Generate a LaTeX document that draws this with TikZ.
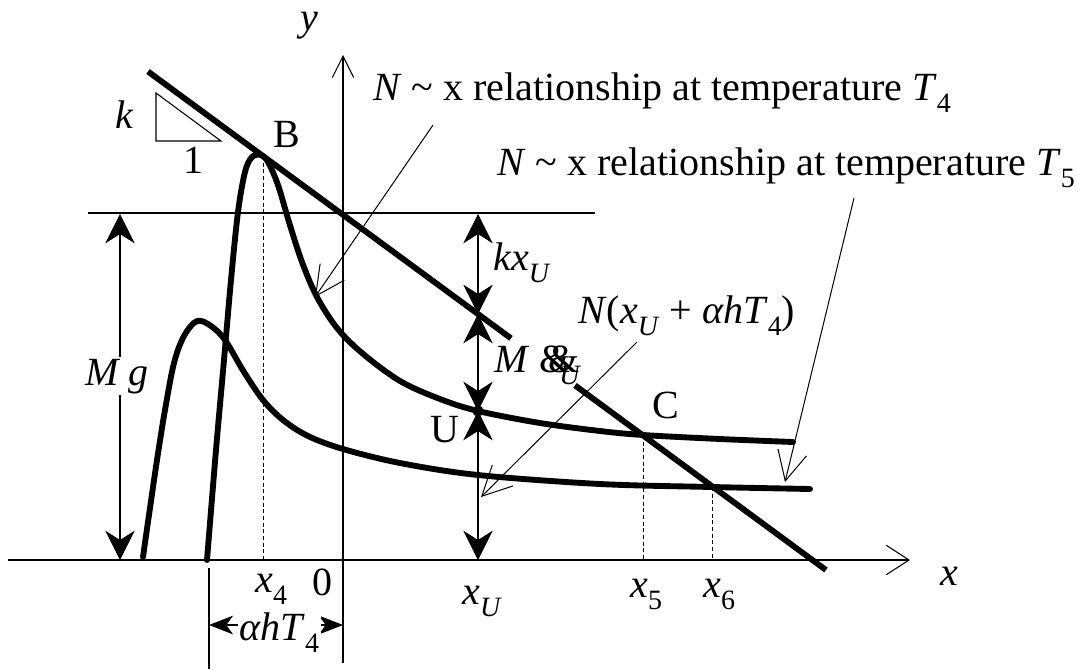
\documentclass[tikz,border=0pt]{standalone}
\usepackage{fontspec}
\setmainfont{Liberation Serif}
\usetikzlibrary{arrows.meta}
\newcommand{\sbs}[1]{\raisebox{-0.3em}{\fontsize{21}{23}\selectfont #1}}
\begin{document}
\begin{tikzpicture}[x=0.75pt,y=-0.75pt,
  lbl/.style={font=\fontsize{30}{34}\selectfont, inner sep=0pt},
  wlbl/.style={lbl, fill=white, inner sep=1pt},
  curveline/.style={line width=4.4pt, line cap=round, line join=round},
  thinline/.style={line width=0.8pt},
  dimarrow/.style={line width=0.8pt, {Stealth[length=22pt,width=22pt,inset=7pt]}-{Stealth[length=22pt,width=22pt,inset=7pt]}},
  smalldim/.style={line width=0.8pt, {Stealth[length=18pt,width=14pt,inset=5pt]}-{Stealth[length=18pt,width=14pt,inset=5pt]}},
  leader/.style={line width=0.75pt, -{Straight Barb[length=22pt,width=22pt]}},
  guide/.style={line width=0.6pt, dash pattern=on 3pt off 2pt}]
\useasboundingbox (0,0) rectangle (1078,669);

% axes
\coordinate (xstart) at (8,560);
\coordinate (xend) at (910,560);
\coordinate (ybot) at (343,663);
\coordinate (ytop) at (343,55);
\draw[thinline, -{Straight Barb[length=17pt,width=22pt]}] (xstart) -- (xend);
\draw[thinline, -{Straight Barb[length=16pt,width=16pt]}] (ybot) -- (ytop);
\node[lbl, anchor=base west] (ylab) at (300,30) {\textit{y}};
\node[lbl, anchor=base west] (xlab) at (940,585) {\textit{x}};

% reference horizontal line
\coordinate (hl) at (88,213);
\coordinate (hr) at (595,213);
\draw[thinline] (hl) -- (hr);

% tangent line (broken near label)
\coordinate (t1) at (148,71.5);
\coordinate (t2) at (511,338.3);
\coordinate (t3) at (575,385.4);
\coordinate (t4) at (826,570);
\draw[curveline, line cap=butt] (t1) -- (t2);
\draw[curveline, line cap=butt] (t3) -- (t4);

% slope triangle
\coordinate (s1) at (156,93);
\coordinate (s2) at (156,141);
\coordinate (s3) at (221,141);
\draw[thinline] (s1) -- (s2) -- (s3) -- cycle;
\node[lbl, anchor=base west] (klab) at (115,128) {\textit{k}};
\node[lbl, anchor=base west] (onelab) at (183,173) {1};

% curve T4
\draw[curveline] plot[smooth, tension=0.55] coordinates {
 (207,560) (216,450) (224,360) (231,280) (238,212) (245,172) (252,157) (261,155) (268,162)
 (278,185) (289,222) (302,262) (317,297) (337,328) (362,353) (400,381) (440,399)
 (478,411) (540,423) (600,431) (643,435) (720,439) (793,442)};
% curve T5
\draw[curveline] plot[smooth, tension=0.55] coordinates {
 (143,557) (150,508) (157,460) (165,410) (174,363) (184,336) (197,321) (211,326)
 (225,340) (244,372) (263,400) (283,420) (308,436) (343,449) (400,463) (478,475)
 (600,484) (712,487) (810,489)};

% points and guides
\coordinate (B) at (263,156);
\coordinate (C) at (643,435);
\coordinate (D) at (712,487);
\coordinate (B0) at (263,560);
\coordinate (C0) at (643,560);
\coordinate (D0) at (712,560);
\draw[guide] (B) -- (B0);
\draw[guide] (C) -- (C0);
\draw[guide] (D) -- (D0);
\node[lbl, anchor=base west] (Blab) at (273,147) {B};
\node[lbl, anchor=base west] (Clab) at (652,418) {C};

% Mg dimension
\coordinate (mgt) at (120,214);
\coordinate (mgb) at (120,560);
\draw[dimarrow] (mgt) -- (mgb);
\node[wlbl, anchor=base west] (mglab) at (84,385) {\textit{M g}};

% right dimensions
\coordinate (r0) at (478,214);
\coordinate (r1) at (478,314);
\coordinate (U) at (478,411);
\coordinate (r3) at (478,560);
\draw[dimarrow] (r0) -- (r1);
\draw[dimarrow] (r1) -- (U);
\draw[dimarrow] (U) -- (r3);
\fill (U) circle[radius=4.2pt];
\node[lbl, anchor=base west] (Ulab) at (430,442) {U};
\node[lbl, anchor=base west] (kxlab) at (493,270) {\textit{kx}\sbs{\textit{U}}};
\node[lbl, anchor=base west] (mxlab) at (494,372) {\textit{M} \&\kern-0.56em\&\kern-0.5em\sbs{\textit{U}}};

% alpha h T4 dimension
\coordinate (av1) at (209,568);
\coordinate (av2) at (209,669);
\coordinate (aa) at (209,625);
\coordinate (ab) at (343,625);
\draw[thinline] (av1) -- (av2);
\draw[smalldim] (aa) -- (ab);
\node[wlbl, anchor=base west] (ahlab) at (238,640) {\textit{αhT}\sbs{4}};

% axis tick labels
\node[lbl, anchor=base west] (x4lab) at (255,592) {\textit{x}\sbs{4}};
\node[lbl, anchor=base west] (zlab) at (312,595) {0};
\node[lbl, anchor=base west] (xulab) at (462,604) {\textit{x}\sbs{\textit{U}}};
\node[lbl, anchor=base west] (x5lab) at (630,597) {\textit{x}\sbs{5}};
\node[lbl, anchor=base west] (x6lab) at (703,597) {\textit{x}\sbs{6}};

% annotations with leaders
\node[lbl, anchor=base west] (T4lab) at (373,100) {\textit{N} \textasciitilde{} x relationship at temperature \textit{T}\sbs{4}};
\node[lbl, anchor=base west] (T5lab) at (497,175) {\textit{N} \textasciitilde{} x relationship at temperature \textit{T}\sbs{5}};
\node[lbl, anchor=base west] (Nlab) at (578,323) {\textit{N}(\textit{x}\sbs{\textit{U}} + \textit{αhT}\sbs{4})};
\coordinate (l1s) at (433,125);
\coordinate (l1e) at (315,297);
\coordinate (l2s) at (854,198);
\coordinate (l2e) at (785,482);
\coordinate (l3s) at (637,342);
\coordinate (l3e) at (481,497);
\draw[leader] (l1s) -- (l1e);
\draw[leader] (l2s) -- (l2e);
\draw[leader] (l3s) -- (l3e);
\end{tikzpicture}
\end{document}
